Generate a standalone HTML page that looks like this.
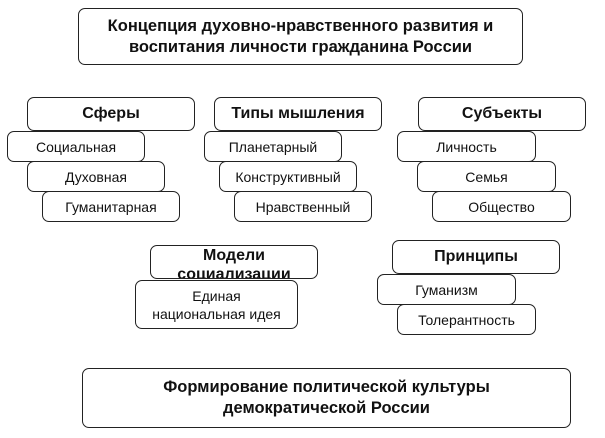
<!DOCTYPE html>
<html><head><meta charset="utf-8"><style>
body{margin:0;width:605px;height:438px;background:#fff;position:relative;overflow:hidden;font-family:"Liberation Sans","DejaVu Sans",sans-serif;color:#111}
.b{position:absolute;box-sizing:border-box;border:1.6px solid #222;border-radius:7px;background:#fff;display:flex;align-items:center;justify-content:center;text-align:center;font-size:14px;line-height:18px}
.h{font-weight:bold;font-size:16px}
.t{font-weight:bold;font-size:16.5px;line-height:21px}
</style></head><body>
<div class="b t" style="left:78px;top:8px;width:445px;height:57px">Концепция духовно-нравственного развития и<br>воспитания личности гражданина России</div>

<div class="b h" style="left:27px;top:97px;width:168px;height:34px">Сферы</div>
<div class="b" style="left:7px;top:131px;width:138px;height:31px">Социальная</div>
<div class="b" style="left:27px;top:161px;width:138px;height:31px">Духовная</div>
<div class="b" style="left:42px;top:191px;width:138px;height:31px">Гуманитарная</div>

<div class="b h" style="left:214px;top:97px;width:168px;height:34px">Типы мышления</div>
<div class="b" style="left:204px;top:131px;width:138px;height:31px">Планетарный</div>
<div class="b" style="left:219px;top:161px;width:138px;height:31px">Конструктивный</div>
<div class="b" style="left:234px;top:191px;width:138px;height:31px">Нравственный</div>

<div class="b h" style="left:418px;top:97px;width:168px;height:34px">Субъекты</div>
<div class="b" style="left:397px;top:131px;width:139px;height:31px">Личность</div>
<div class="b" style="left:417px;top:161px;width:139px;height:31px">Семья</div>
<div class="b" style="left:432px;top:191px;width:139px;height:31px">Общество</div>

<div class="b h" style="left:150px;top:245px;width:168px;height:34px;overflow:hidden;line-height:19px;align-items:flex-start;padding-top:0">Модели<br>социализации</div>
<div class="b" style="left:135px;top:280px;width:163px;height:49px">Единая<br>национальная идея</div>

<div class="b h" style="left:392px;top:240px;width:168px;height:34px">Принципы</div>
<div class="b" style="left:377px;top:274px;width:139px;height:31px">Гуманизм</div>
<div class="b" style="left:397px;top:304px;width:139px;height:31px">Толерантность</div>

<div class="b t" style="left:82px;top:368px;width:489px;height:60px">Формирование политической культуры<br>демократической России</div>
</body></html>
